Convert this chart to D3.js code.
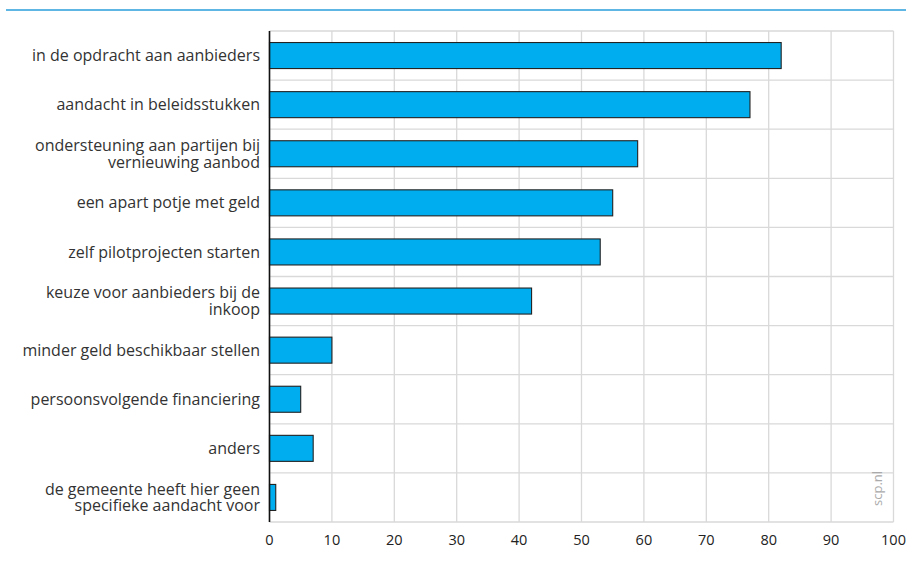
<!DOCTYPE html>
<html>
<head>
<meta charset="utf-8">
<script src="https://cdn.jsdelivr.net/npm/d3@7"></script>
<style>
  html, body { margin: 0; padding: 0; background: #fff; }
  svg { display: block; }
</style>
</head>
<body>
<svg id="chart" width="906" height="569"></svg>
<script>
const categories = [
  ["in de opdracht aan aanbieders"],
  ["aandacht in beleidsstukken"],
  ["ondersteuning aan partijen bij", "vernieuwing aanbod"],
  ["een apart potje met geld"],
  ["zelf pilotprojecten starten"],
  ["keuze voor aanbieders bij de", "inkoop"],
  ["minder geld beschikbaar stellen"],
  ["persoonsvolgende financiering"],
  ["anders"],
  ["de gemeente heeft hier geen", "specifieke aandacht voor"]
];
const values = [82, 77, 59, 55, 53, 42, 10, 5, 7, 1];
const xTicks = [0, 10, 20, 30, 40, 50, 60, 70, 80, 90, 100];
const watermark = "scp.nl";

(function () {
const svg = d3.select("#chart");
const pLeft = 269.5, pRight = 893.5, pTop = 31, pBottom = 522;
const font = "'Open Sans', 'Noto Sans', sans-serif";

svg.append("line")
  .attr("x1", 6).attr("x2", 906).attr("y1", 10).attr("y2", 10)
  .attr("stroke", "#5db6e4").attr("stroke-width", 2);

const keys = categories.map((c, i) => i);
const x = d3.scaleLinear().domain([0, 100]).range([pLeft, pRight]);
const y = d3.scaleBand().domain(keys).range([pTop, pBottom]).padding(0);
const bw = y.bandwidth();

const grid = svg.append("g");
grid.selectAll("line.v").data(xTicks).join("line")
  .attr("class", "v")
  .attr("x1", d => x(d)).attr("x2", d => x(d))
  .attr("y1", pTop).attr("y2", pBottom)
  .attr("stroke", "#d9d9d9").attr("stroke-width", 1.3);
const bounds = keys.map(k => y(k)).concat([pBottom]);
grid.selectAll("line.h").data(bounds).join("line")
  .attr("class", "h")
  .attr("x1", pLeft).attr("x2", pRight)
  .attr("y1", d => d).attr("y2", d => d)
  .attr("stroke", "#d9d9d9").attr("stroke-width", 1.3);

svg.append("g").selectAll("rect").data(values).join("rect")
  .attr("x", x(0))
  .attr("y", (d, i) => y(i) + bw * 0.235)
  .attr("width", d => x(d) - x(0))
  .attr("height", bw * 0.53)
  .attr("fill", "#00aeef")
  .attr("stroke", "#222")
  .attr("stroke-width", 1.1);

svg.append("line")
  .attr("x1", pLeft).attr("x2", pLeft).attr("y1", pTop).attr("y2", pBottom)
  .attr("stroke", "#111").attr("stroke-width", 1.6);

const lab = svg.append("g")
  .attr("font-family", font).attr("font-size", 16).attr("fill", "#333")
  .attr("text-anchor", "end");
categories.forEach((lines, i) => {
  const cy = y(i) + bw / 2;
  const lh = 16.5;
  const t = lab.append("text").attr("x", 260);
  lines.forEach((ln, j) => {
    t.append("tspan")
      .attr("x", 260)
      .attr("y", cy + (j - (lines.length - 1) / 2) * lh)
      .attr("dy", "0.35em")
      .text(ln);
  });
});

svg.append("g")
  .attr("font-family", font).attr("font-size", 14.5).attr("fill", "#222")
  .attr("text-anchor", "middle")
  .selectAll("text").data(xTicks).join("text")
  .attr("x", d => x(d)).attr("y", pBottom + 18).attr("dy", "0.35em")
  .text(d => d);

svg.append("text")
  .attr("transform", `translate(882,${pBottom - 16}) rotate(-90)`)
  .attr("font-family", font).attr("font-size", 13).attr("fill", "#aaa")
  .attr("text-anchor", "start")
  .text(watermark);
})();
</script>
</body>
</html>
